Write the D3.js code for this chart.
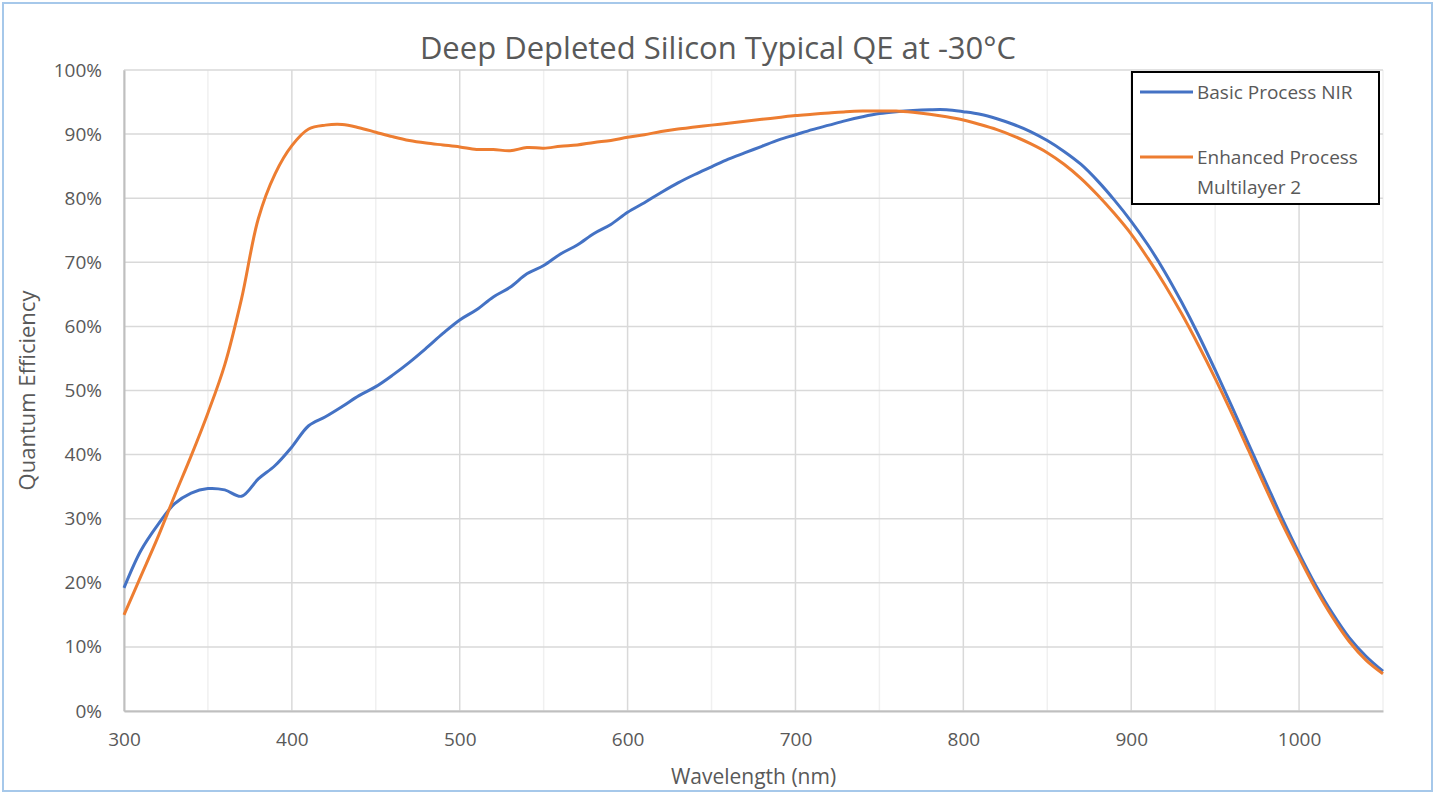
<!DOCTYPE html>
<html>
  <head>
    <meta charset="utf-8">
    <title>Deep Depleted Silicon Typical QE</title>
    <style>
      body { margin: 0; background: #fff; }
      text { font-family: "Open Sans", sans-serif; fill: #595959; }
    </style>
  </head>
  <body>
    <div id="container"></div>
    <script src="https://d3js.org/d3.v7.min.js"></script>
    <script>

      // DATA (QE in %)
      var wavelengths = d3.range(300, 1051, 10);

      var basicNIR = [
        19.2, 25.0, 29.0, 32.3, 34.0, 34.7, 34.5, 33.5, 36.2, 38.3,
        41.2, 44.5, 45.9, 47.5, 49.2, 50.6, 52.4, 54.4, 56.6, 58.9,
        61.0, 62.6, 64.6, 66.1, 68.2, 69.5, 71.3, 72.7, 74.5, 75.9,
        77.8, 79.3, 80.9, 82.4, 83.7, 84.9, 86.1, 87.1, 88.1, 89.1,
        89.9, 90.7, 91.4, 92.1, 92.7, 93.2, 93.5, 93.7, 93.8, 93.8,
        93.5, 93.1, 92.4, 91.5, 90.4, 89.0, 87.3, 85.3, 82.7, 79.7,
        76.4, 72.7, 68.5, 63.8, 58.7, 53.2, 47.5, 41.6, 35.8, 30.0,
        24.6, 19.6, 15.2, 11.4, 8.5, 6.2
      ];

      var enhancedML2 = [
        15.0, 21.0, 27.0, 33.5, 39.8, 46.5, 54.0, 64.3, 76.8, 83.8,
        88.2, 90.8, 91.4, 91.5, 91.0, 90.3, 89.6, 89.0, 88.6, 88.3,
        88.0, 87.6, 87.6, 87.4, 87.9, 87.8, 88.1, 88.3, 88.7, 89.0,
        89.5, 89.9, 90.4, 90.8, 91.1, 91.4, 91.7, 92.0, 92.3, 92.6,
        92.9, 93.1, 93.3, 93.5, 93.6, 93.6, 93.6, 93.4, 93.1, 92.7,
        92.2, 91.5, 90.7, 89.7, 88.5, 87.1, 85.3, 83.1, 80.5, 77.6,
        74.4, 70.6, 66.5, 62.0, 57.1, 51.9, 46.4, 40.6, 34.8, 29.2,
        24.0, 19.0, 14.6, 10.8, 7.9, 5.8
      ];

      var xTicks = [300, 400, 500, 600, 700, 800, 900, 1000];
      var xMinor = [350, 450, 550, 650, 750, 850, 950, 1050];
      var yTicks = [0, 10, 20, 30, 40, 50, 60, 70, 80, 90, 100];

      var series = [
        { name: ["Basic Process NIR"], values: basicNIR, color: "#4472c4" },
        { name: ["Enhanced Process", "Multilayer 2"], values: enhancedML2, color: "#ed7d31" }
      ];

      // DIMENSIONS
      var W = 1438, H = 793;
      var plot = { left: 124, right: 1383, top: 70, bottom: 711 };

      var svg = d3.select("#container")
        .append("svg")
        .attr("width", W)
        .attr("height", H);

      // chart border
      svg.append("rect")
        .attr("x", 3).attr("y", 3)
        .attr("width", 1429).attr("height", 788)
        .attr("fill", "#fff")
        .attr("stroke", "#a6c8ea")
        .attr("stroke-width", 2);

      // SCALES
      var x = d3.scaleLinear().domain([300, 1050]).range([plot.left, plot.right]);
      var y = d3.scaleLinear().domain([0, 100]).range([plot.bottom, plot.top]);

      // minor vertical grid
      svg.append("g")
        .selectAll("line")
        .data(xMinor)
        .enter().append("line")
        .attr("x1", d => x(d)).attr("x2", d => x(d))
        .attr("y1", y(0)).attr("y2", y(100))
        .attr("stroke", "#f0f0f0")
        .attr("stroke-width", 1.5);

      // major vertical grid
      svg.append("g")
        .selectAll("line")
        .data(xTicks)
        .enter().append("line")
        .attr("x1", d => x(d)).attr("x2", d => x(d))
        .attr("y1", y(0)).attr("y2", y(100))
        .attr("stroke", "#d9d9d9")
        .attr("stroke-width", 1.5);

      // horizontal grid
      svg.append("g")
        .selectAll("line")
        .data(yTicks)
        .enter().append("line")
        .attr("x1", x(300)).attr("x2", x(1050))
        .attr("y1", d => y(d)).attr("y2", d => y(d))
        .attr("stroke", "#d9d9d9")
        .attr("stroke-width", 1.5);

      // AXES
      var xAxis = svg.append("g")
        .attr("transform", "translate(0," + y(0) + ")")
        .call(d3.axisBottom(x).tickValues(xTicks).tickSize(0).tickPadding(22).tickFormat(d3.format("d")));
      var yAxis = svg.append("g")
        .attr("transform", "translate(" + x(300) + ",0)")
        .call(d3.axisLeft(y).tickValues(yTicks).tickSize(0).tickPadding(22).tickFormat(d => d + "%"));

      [xAxis, yAxis].forEach(function (a) {
        a.select(".domain").attr("stroke", "#bfbfbf").attr("stroke-width", 2);
        a.selectAll("text")
          .style("font-family", "'Open Sans', sans-serif")
          .style("font-size", "19px")
          .attr("fill", "#595959");
      });

      // LINES
      var line = d3.line()
        .x((d, i) => x(wavelengths[i]))
        .y(d => y(d))
        .curve(d3.curveCatmullRom.alpha(0.5));

      svg.append("g")
        .selectAll("path")
        .data(series)
        .enter().append("path")
        .attr("d", d => line(d.values))
        .attr("fill", "none")
        .attr("stroke", d => d.color)
        .attr("stroke-width", 3)
        .attr("stroke-linejoin", "round");

      // TITLES
      svg.append("text")
        .attr("x", 718)
        .attr("y", 59)
        .attr("text-anchor", "middle")
        .style("font-size", "31px")
        .text("Deep Depleted Silicon Typical QE at -30°C");

      svg.append("text")
        .attr("x", (plot.left + plot.right) / 2)
        .attr("y", 784)
        .attr("text-anchor", "middle")
        .style("font-size", "21px")
        .text("Wavelength (nm)");

      svg.append("text")
        .attr("transform", "translate(35," + (plot.top + plot.bottom) / 2 + ") rotate(-90)")
        .attr("text-anchor", "middle")
        .style("font-size", "22px")
        .text("Quantum Efficiency");

      // LEGEND
      var legend = svg.append("g");
      legend.append("rect")
        .attr("x", 1132).attr("y", 72)
        .attr("width", 247).attr("height", 132)
        .attr("fill", "#fff")
        .attr("stroke", "#000")
        .attr("stroke-width", 2);

      var legendY = [92, 157];
      series.forEach(function (s, i) {
        legend.append("line")
          .attr("x1", 1140).attr("x2", 1193)
          .attr("y1", legendY[i]).attr("y2", legendY[i])
          .attr("stroke", s.color)
          .attr("stroke-width", 3);
        s.name.forEach(function (t, j) {
          legend.append("text")
            .attr("x", 1197)
            .attr("y", legendY[i] + 7 + j * 30)
            .style("font-size", "19px")
            .text(t);
        });
      });

    </script>
  </body>
</html>
